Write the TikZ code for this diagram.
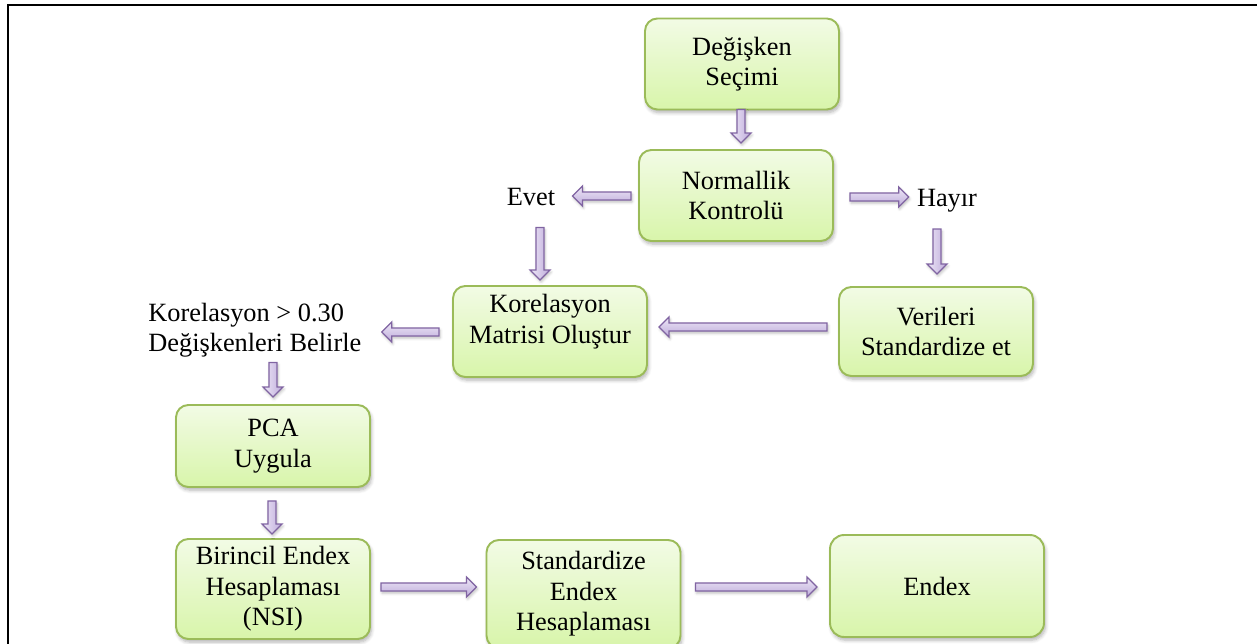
\documentclass[tikz,border=0pt]{standalone}
\usepackage{fontspec}
\setmainfont{Liberation Serif}
\usetikzlibrary{calc,shadows.blur}
\definecolor{boxtop}{HTML}{F2FBE5}
\definecolor{boxbot}{HTML}{D8F5AA}
\definecolor{boxline}{HTML}{9BBB59}
\definecolor{arrline}{HTML}{8064A2}
\definecolor{arrlight}{HTML}{EEE8F7}
\definecolor{arrdark}{HTML}{BDAADA}
\tikzset{
  txtfont/.style={font=\fontsize{15}{17.3}\selectfont},
  flowbox/.style={draw=boxline, line width=1.1pt, rounded corners=7pt,
    top color=boxtop, bottom color=boxbot,
    minimum width=3.88cm, minimum height=1.82cm, inner sep=0pt,
    align=center, txtfont,
    blur shadow={shadow xshift=0.8pt, shadow yshift=-1.8pt, shadow blur radius=2pt,
      shadow blur steps=6, shadow opacity=30}},
  lbl/.style={inner sep=0pt, txtfont},
  barrow/.style={draw=arrline, line width=0.7pt, line join=miter,
    blur shadow={shadow xshift=0.6pt, shadow yshift=-1.2pt, shadow blur radius=1.5pt,
      shadow blur steps=4, shadow opacity=25},
    to path={let \p1=(\tikztostart), \p2=(\tikztotarget),
      \n1={veclen(\x2-\x1,\y2-\y1)}, \n2={(\x2-\x1)/\n1}, \n3={(\y2-\y1)/\n1} in
      ({\x1-(\n3)*2.3pt},{\y1+(\n2)*2.3pt})
      -- ({\x2-(\n2)*5.7pt-(\n3)*2.3pt},{\y2-(\n3)*5.7pt+(\n2)*2.3pt})
      -- ({\x2-(\n2)*5.7pt-(\n3)*5.7pt},{\y2-(\n3)*5.7pt+(\n2)*5.7pt})
      -- (\p2)
      -- ({\x2-(\n2)*5.7pt+(\n3)*5.7pt},{\y2-(\n3)*5.7pt-(\n2)*5.7pt})
      -- ({\x2-(\n2)*5.7pt+(\n3)*2.3pt},{\y2-(\n3)*5.7pt-(\n2)*2.3pt})
      -- ({\x1+(\n3)*2.3pt},{\y1-(\n2)*2.3pt})
      -- cycle}},
  harrow/.style={barrow, top color=arrlight, bottom color=arrdark},
  varrow/.style={barrow, left color=arrlight, right color=arrdark}
}
\begin{document}
\begin{tikzpicture}[x=0.02cm, y=-0.02cm]
\useasboundingbox (0,0) rectangle (1257,644);
% frame
\draw[line width=1.4pt] (1262,5) -- (8,5) -- (8,650);

% boxes
\node[flowbox] (dg) at (742,64) {Değişken\\Seçimi};
\node[flowbox] (nk) at (736,195.5) {Normallik\\Kontrolü};
\node[flowbox] (km) at (550,331.5) {\raisebox{0pt}[\height][\dimexpr\depth+11pt\relax]{\begin{tabular}{@{}c@{}}Korelasyon\\Matrisi Oluştur\end{tabular}}};
\node[flowbox, minimum height=1.78cm] (vs) at (936,331.5) {Verileri\\Standardize et};
\node[flowbox, minimum height=1.64cm] (pca) at (273,446) {PCA\\Uygula};
\node[flowbox, minimum height=2cm] (bi) at (273,589) {Birincil Endex\\Hesaplaması\\(NSI)};
\node[flowbox, minimum height=2.16cm] (se) at (583.5,594) {Standardize\\Endex\\Hesaplaması};
\node[flowbox, minimum width=4.28cm, minimum height=2.04cm, rounded corners=8pt] (en) at (937,586) {Endex};

% free labels
\node[lbl, anchor=base] (evet) at (531,206) {Evet};
\node[lbl, anchor=base] (hayir) at (947,207) {Hayır};
\node[lbl, align=left, anchor=west] (kor) at (148,330) {Korelasyon > 0.30\\Değişkenleri Belirle};

% arrows
\draw[varrow] ($(dg.south)+(-1,-1)$) to ($(nk.north)+(5,-6)$);
\draw[harrow] ($(nk.west)+(-7,0.5)$) to ($(nk.west -| evet.east)+(17,0.5)$);
\draw[harrow] ($(nk.east)+(16,1.5)$) to ($(nk.east -| hayir.west)+(-8,1.5)$);
\draw[varrow] ($(evet.south)+(9,21)$) to ($(evet.south |- km.north)+(9,-5)$);
\draw[varrow] ($(vs.north |- hayir.south)+(1,16)$) to ($(vs.north)+(1,-12)$);
\draw[harrow] ($(vs.west)+(-11,-4.5)$) to ($(km.east)+(11,-4.5)$);
\draw[harrow] ($(km.west)+(-13,0.5)$) to ($(km.west -| kor.east)+(20,0.5)$);
\draw[varrow] ($(pca.north |- kor.south)+(0,5)$) to ($(pca.north)+(0,-7)$);
\draw[varrow] ($(pca.south)+(-1,13)$) to ($(bi.north)+(-1,-4)$);
\draw[harrow] ($(bi.east)+(10,-2)$) to ($(bi.east -| se.west)+(-9,-2)$);
\draw[harrow] ($(bi.east -| se.east)+(14,-2)$) to ($(bi.east -| en.west)+(-12,-2)$);
\end{tikzpicture}
\end{document}
